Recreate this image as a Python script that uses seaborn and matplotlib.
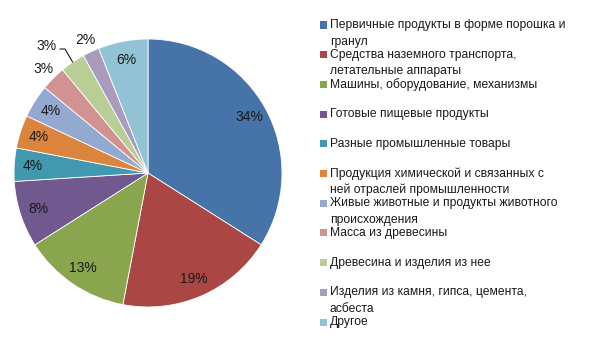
import numpy as np
import matplotlib
matplotlib.use("Agg")
import matplotlib.pyplot as plt
from matplotlib.patches import Rectangle
import seaborn as sns

categories = [
    "Первичные продукты в форме порошка и\nгранул",
    "Средства наземного транспорта,\nлетательные аппараты",
    "Машины, оборудование, механизмы",
    "Готовые пищевые продукты",
    "Разные промышленные товары",
    "Продукция химической и связанных с\nней отраслей промышленности",
    "Живые животные и продукты животного\nпроисхождения",
    "Масса из древесины",
    "Древесина и изделия из нее",
    "Изделия из камня, гипса, цемента,\nасбеста",
    "Другое",
]
values = [34, 19, 13, 8, 4, 4, 4, 3, 3, 2, 6]
colors = ["#4674A8", "#AA4644", "#89A54E", "#71588F", "#4198AF", "#DB843D",
          "#93A9CF", "#D19392", "#B9CD96", "#A99BBD", "#92C3D4"]

sns.set_theme(style="white")
plt.rcParams['font.family'] = ['Liberation Sans', 'DejaVu Sans']

W, H = 593, 350
fig = plt.figure(figsize=(W / 100, H / 100), dpi=100)
fig.patch.set_facecolor("white")

cx, cy, r = 148, 173, 134
ax = fig.add_axes([(cx - r) / W, (H - cy - r) / H, 2 * r / W, 2 * r / H])
ax.set_facecolor("white")

wedges, texts, autotexts = ax.pie(
    values, colors=colors, startangle=90, counterclock=False, radius=1.0,
    autopct=lambda p: f"{p:.0f}%", pctdistance=0.86,
    wedgeprops=dict(edgecolor="white", linewidth=0.6),
    textprops=dict(fontsize=10, color="#1a1a1a"))
ax.set_xlim(-1, 1)
ax.set_ylim(-1, 1)
ax.set_aspect("equal")
ax.axis("off")

def mid_dir(w):
    a = np.deg2rad((w.theta1 + w.theta2) / 2)
    return np.cos(a), np.sin(a)

# outside labels for the small slices
for i, dist in [(7, 1.1), (9, 1.1)]:
    dx, dy = mid_dir(wedges[i])
    autotexts[i].set_position((dx * dist, dy * dist))

# light green slice: label with leader line
dx, dy = mid_dir(wedges[8])
lx, ly = (46 - cx) / r, (cy - 46) / r
autotexts[8].set_position((lx, ly))
ey = (cy - 49) / r
ax.plot([(60 - cx) / r, (65 - cx) / r, dx * 1.0], [ey, ey, dy * 1.0],
        color="#1a1a1a", lw=0.8, clip_on=False)

# legend drawn manually (Excel-style uniform slots)
y0 = 25.0
step = 29.7
line_gap = 16.5
for k, (lab, col) in enumerate(zip(categories, colors)):
    yc = y0 + k * step
    fig.patches.append(Rectangle((320 / W, 1 - (yc + 3.5) / H), 7 / W, 7 / H,
                                 transform=fig.transFigure, facecolor=col,
                                 edgecolor="none"))
    for j, line in enumerate(lab.split("\n")):
        fig.text(330 / W, 1 - (yc + j * line_gap) / H, line, fontsize=8.7,
                 color="#1a1a1a", va="center", ha="left")

fig.savefig("out.png", dpi=100, facecolor="white")
